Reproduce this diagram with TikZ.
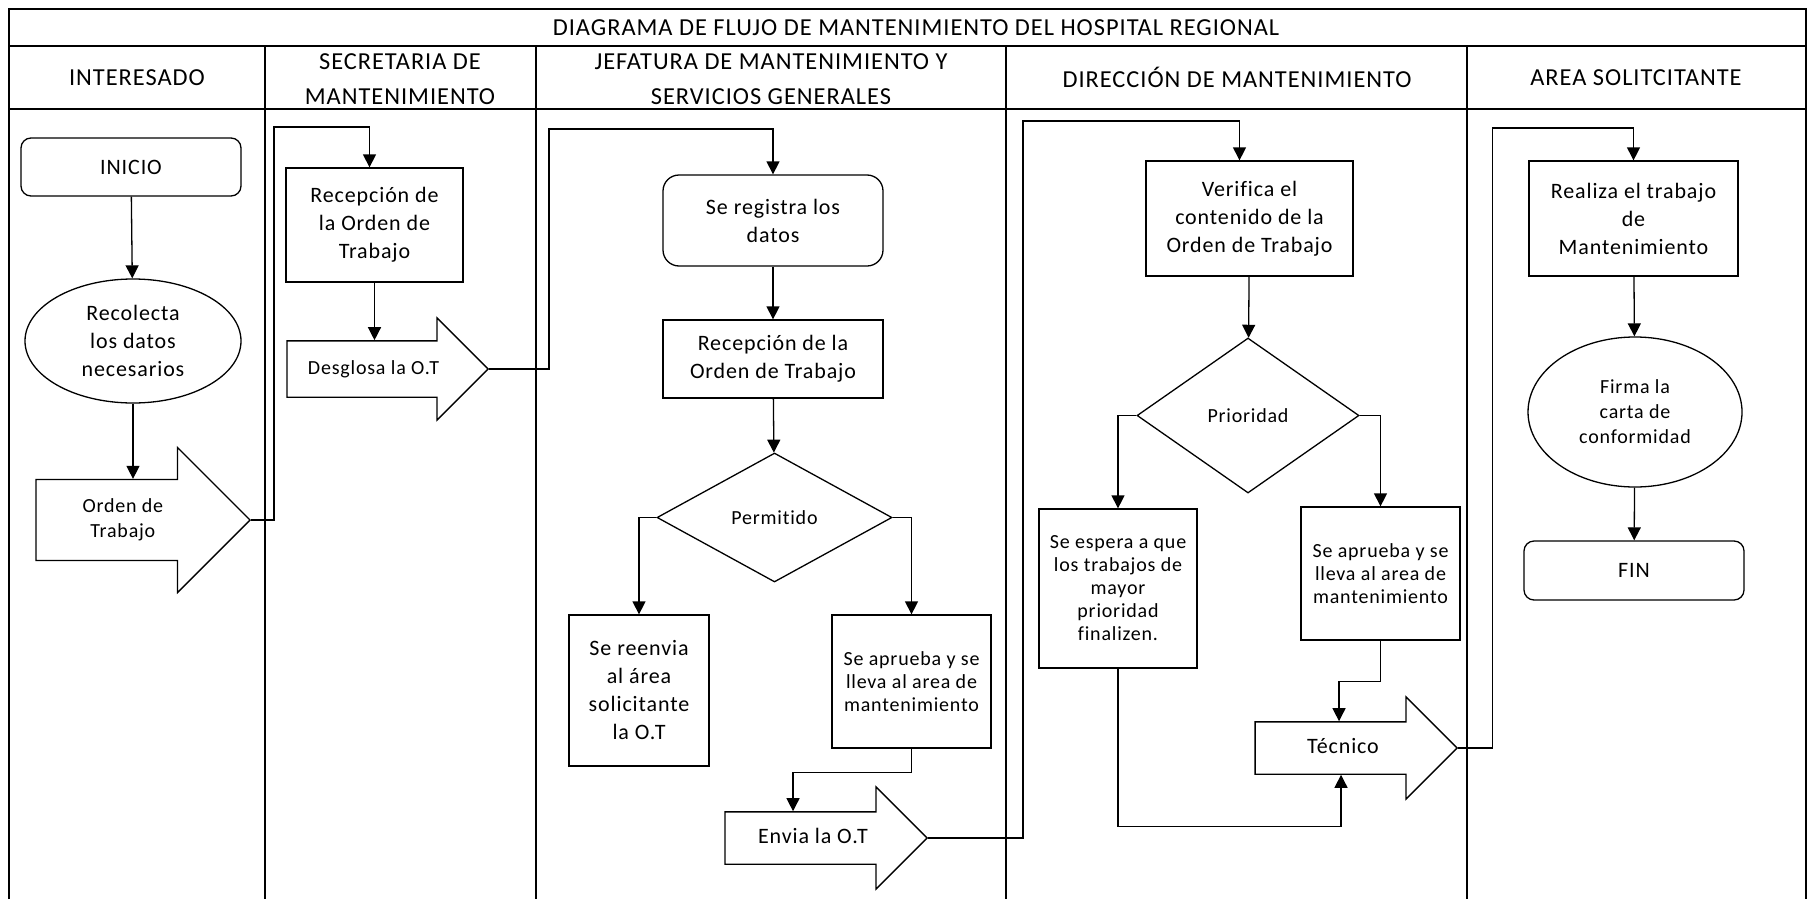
\documentclass[tikz,border=0pt]{standalone}
\usepackage{fontspec}
\setmainfont{Carlito}[LetterSpace=4, Ligatures=CommonOff]
\usetikzlibrary{shapes.geometric,shapes.arrows,arrows.meta}

\tikzset{
  proceso/.style={draw, rectangle, line width=0.65pt, align=center, inner sep=2pt,
                  font=\fontsize{11}{14}\selectfont},
  terminal/.style={proceso, rounded corners=5pt},
  elipse/.style={draw, ellipse, line width=0.65pt, align=center, inner sep=0pt,
                 font=\fontsize{11}{14}\selectfont},
  decision/.style={draw, diamond, line width=0.65pt, inner sep=0pt,
                   font=\fontsize{10}{12}\selectfont},
  flecha/.style={draw, single arrow, line width=0.65pt, align=center, inner xsep=0pt,
                 anchor=tip, font=\fontsize{11}{14}\selectfont},
  unalinea/.style={text height=8pt, text depth=2.5pt},
  linea/.style={line width=0.65pt, -{Triangle[length=6.5pt,width=6.5pt]}},
  marco/.style={line width=1pt},
  cabecera/.style={align=center, font=\fontsize{12.2}{17.5}\selectfont},
  chico/.style={font=\fontsize{10}{11.5}\selectfont}
}

\begin{document}
\begin{tikzpicture}[x=0.5pt,y=-0.5pt]
    \useasboundingbox (0,0) rectangle (1807,899);

    % marco y carriles
    \draw[marco] (9,899) -- (9,9) -- (1806,9) -- (1806,899);
    \draw[marco] (9,46) -- (1806,46);
    \draw[marco] (9,109) -- (1806,109);
    \foreach \xc in {265,536,1006,1467}
        \draw[marco] (\xc,46) -- (\xc,899);

    % encabezados
    \node[cabecera] (titulo) at (916,27.5) {DIAGRAMA DE FLUJO DE MANTENIMIENTO DEL HOSPITAL REGIONAL};
    \node[cabecera] (interesado) at (137,77.5) {INTERESADO};
    \node[cabecera] (secretaria) at (400,79.5) {SECRETARIA DE\\MANTENIMIENTO};
    \node[cabecera] (jefatura)   at (771,79.5) {JEFATURA DE MANTENIMIENTO Y\\SERVICIOS GENERALES};
    \node[cabecera] (direccion)  at (1237,77.5) {DIRECCIÓN DE MANTENIMIENTO};
    \node[cabecera] (area)       at (1636,77.5) {AREA SOLITCITANTE};

    % interesado
    \node[terminal, minimum width=110pt, minimum height=29pt] (inicio) at (131,167) {INICIO};
    \node[elipse, minimum width=108pt, minimum height=62pt] (recolecta) at (133,341)
        {Recolecta\\los datos\\necesarios};
    \node[flecha, minimum height=107pt, minimum width=72.5pt, single arrow head extend=16pt,
          inner ysep=9.3pt, font=\fontsize{10}{12.5}\selectfont] (orden) at (251,520) {Orden de\\Trabajo};

    % secretaria
    \node[proceso, minimum width=88.5pt, minimum height=57pt] (recep1) at (374.5,225)
        {Recepción de\\la Orden de\\Trabajo};
    \node[flecha, unalinea, minimum height=100.5pt, minimum width=50pt, single arrow head extend=11.5pt,
          inner ysep=8.5pt, font=\fontsize{10}{12}\selectfont] (desglosa) at (489,369) {Desglosa la O.T};

    % jefatura
    \node[terminal, rounded corners=8pt, minimum width=110pt, minimum height=45.5pt] (registra)
        at (773,220.5) {Se registra los\\datos};
    \node[proceso, minimum width=110pt, minimum height=39pt] (recep2) at (773,359)
        {Recepción de la\\Orden de Trabajo};
    \node[decision, minimum width=117.5pt, minimum height=64.5pt] (permitido) at (774.5,517.5) {Permitido};
    \node[proceso, minimum width=70pt, minimum height=75.5pt] (reenvia) at (639,690.5)
        {Se reenvia\\al área\\solicitante\\la O.T};
    \node[proceso, chico, minimum width=79.5pt, minimum height=66.5pt] (aprueba1) at (911.5,681.5)
        {Se aprueba y se\\lleva al area de\\mantenimiento};
    \node[flecha, unalinea, minimum height=101pt, minimum width=50.5pt, single arrow head extend=12.5pt,
          inner ysep=7.5pt] (envia) at (928,838) {Envia la O.T};

    % direccion
    \node[proceso, minimum width=103.5pt, minimum height=57.5pt] (verifica) at (1249.5,218.5)
        {Verifica el\\contenido de la\\Orden de Trabajo};
    \node[decision, minimum width=111pt, minimum height=77.5pt] (prioridad) at (1248,415.5) {Prioridad};
    \node[proceso, chico, minimum width=79pt, minimum height=79.5pt] (espera) at (1118,588.5)
        {Se espera a que\\los trabajos de\\mayor\\prioridad\\finalizen.};
    \node[proceso, chico, minimum width=79.5pt, minimum height=66.5pt] (aprueba2) at (1380.5,573.5)
        {Se aprueba y se\\lleva al area de\\mantenimiento};
    \node[flecha, unalinea, minimum height=101pt, minimum width=50.5pt, single arrow head extend=12.5pt,
          inner ysep=7.5pt] (tecnico) at (1458,748) {Técnico};

    % area solicitante
    \node[proceso, minimum width=104.5pt, minimum height=57.5pt] (realiza) at (1633.5,218.5)
        {Realiza el trabajo\\de\\Mantenimiento};
    \node[elipse, minimum width=107pt, minimum height=75pt, font=\fontsize{10}{12.5}\selectfont]
        (firma) at (1635,412) {Firma la\\carta de\\conformidad};
    \node[terminal, minimum width=110pt, minimum height=29.5pt] (fin) at (1634,570.5) {FIN};

    % conectores
    \draw[linea] (inicio) -- (recolecta);
    \draw[linea] (recolecta.south) -- (recolecta.south |- orden.north);
    \draw[linea] (orden.tip) -| (274,127) -| ([xshift=-2.5pt]recep1.north);
    \draw[linea] (recep1.south) -- (recep1.south |- desglosa.north);
    \draw[linea] (desglosa.tip) -| (549,129) -| (registra.north);
    \draw[linea] (registra) -- (recep2);
    \draw[linea] (recep2) -- (permitido);
    \draw[linea] (permitido.west) -| (reenvia.north);
    \draw[linea] (permitido.east) -| (aprueba1.north);
    \draw[linea] (aprueba1.south) -- ++(0,24) -| ([xshift=-10pt]envia.north);
    \draw[linea] (envia.tip) -| (1023,121) -| ([xshift=-5pt]verifica.north);
    \draw[linea] (verifica) -- (prioridad);
    \draw[linea] (prioridad.west) -| (espera.north);
    \draw[linea] (prioridad.east) -| (aprueba2.north);
    \draw[linea] (aprueba2.south) -- ++(0,41) -| ([xshift=-2pt]tecnico.north);
    \draw[linea] (espera.south) -- ++(0,158) -| ([xshift=-1pt]tecnico.south);
    \draw[linea] (tecnico.tip) -| (1492.5,128) -| (realiza.north);
    \draw[linea] (realiza) -- (firma);
    \draw[linea] (firma) -- (fin);
\end{tikzpicture}
\end{document}
